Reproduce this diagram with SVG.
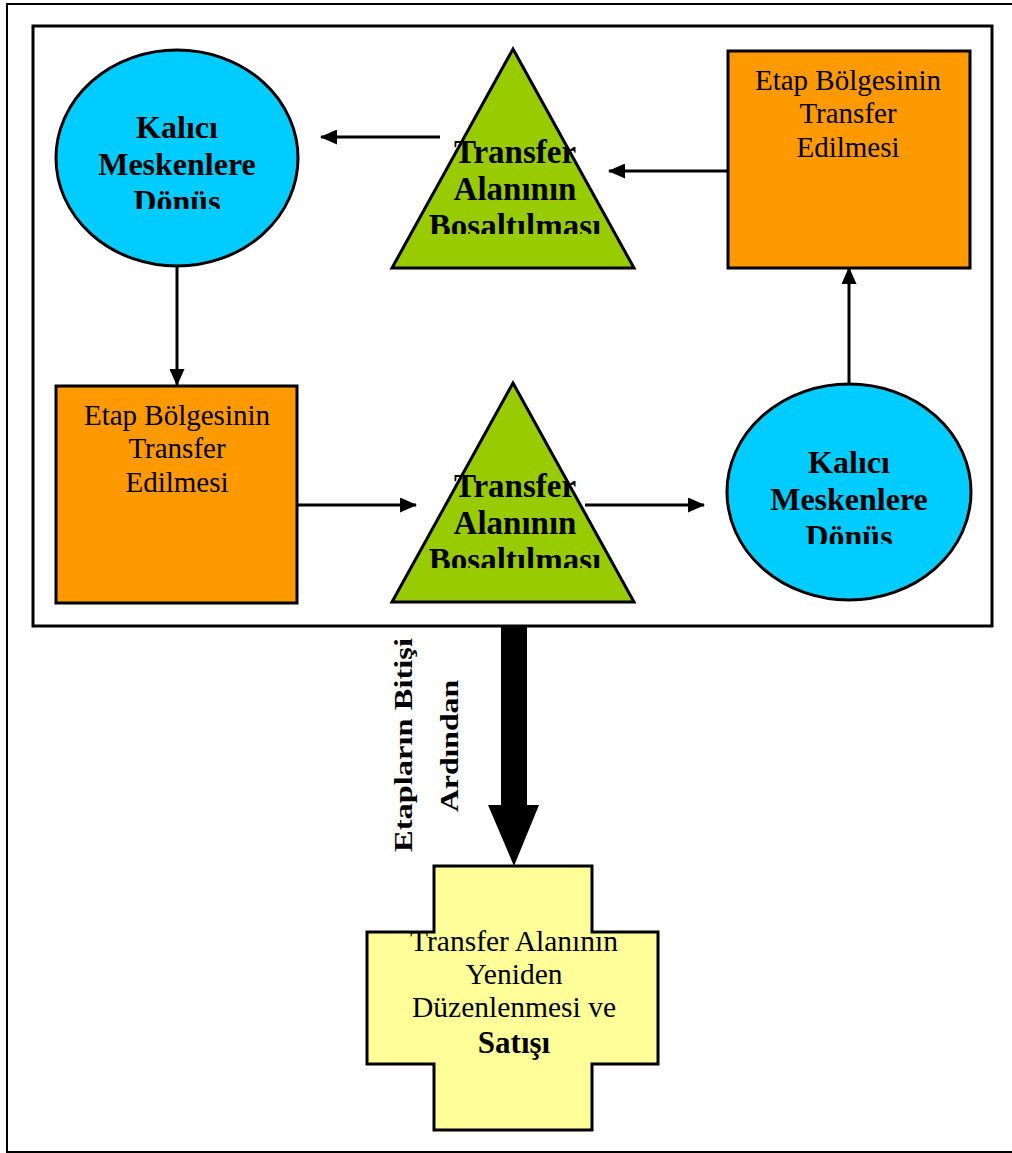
<svg xmlns="http://www.w3.org/2000/svg" width="1012" height="1153" viewBox="0 0 1012 1153">
<style>
.b{font-family:"Liberation Serif","Times New Roman",serif;font-weight:bold;fill:#000;text-anchor:middle}
.r{font-family:"Liberation Serif","Times New Roman",serif;fill:#000;text-anchor:middle}
.shape{stroke:#000;stroke-width:3}
.conn{stroke:#000;stroke-width:3;fill:none;marker-end:url(#ah)}
</style>
<defs>
<marker id="ah" markerUnits="userSpaceOnUse" markerWidth="17" markerHeight="15" refX="16" refY="7.5" orient="auto">
<path d="M0,0 L17,7.5 L0,15 z" fill="#000"/>
</marker>
<clipPath id="c1"><rect x="0" y="0" width="1012" height="209"/></clipPath>
<clipPath id="c2"><rect x="0" y="0" width="1012" height="234"/></clipPath>
<clipPath id="c3"><rect x="0" y="0" width="1012" height="568"/></clipPath>
<clipPath id="c4"><rect x="0" y="0" width="1012" height="544"/></clipPath>
</defs>
<rect x="0" y="0" width="1012" height="1153" fill="#fff"/>
<rect x="7" y="4" width="1030" height="1148" fill="none" stroke="#000" stroke-width="2"/>
<rect x="33" y="26" width="959" height="600" fill="#fff" stroke="#000" stroke-width="3"/>

<g id="connectors">
<line class="conn" x1="728" y1="171" x2="609" y2="171"/>
<line class="conn" x1="440" y1="137" x2="321" y2="137"/>
<line class="conn" x1="177" y1="266" x2="177" y2="385"/>
<line class="conn" x1="297" y1="505" x2="416" y2="505"/>
<line class="conn" x1="585" y1="505" x2="704" y2="505"/>
<line class="conn" x1="849" y1="384" x2="849" y2="268"/>
<path d="M501,626 L527,626 L527,805 L539,805 L514,866 L488,805 L501,805 z" fill="#000"/>
<g class="b" font-size="26">
<text transform="translate(412,745) rotate(-90) scale(1.25,1)">Etapların Bitişi</text>
<text transform="translate(458,746) rotate(-90) scale(1.22,1)">Ardından</text>
</g>
</g>

<g id="n-tl-circle">
<ellipse class="shape" cx="177" cy="158" rx="121" ry="108" fill="#00CCFF"/>
<g class="b" font-size="32">
<text x="177" y="138">Kalıcı</text>
<text x="177" y="175">Meskenlere</text>
<text x="177" y="212" clip-path="url(#c1)">Dönüş</text>
</g>
</g>

<g id="n-top-triangle">
<polygon class="shape" points="513,49 634,268 392,268" fill="#99CC00"/>
<g class="b" font-size="33">
<text x="515" y="163">Transfer</text>
<text x="515" y="200">Alanının</text>
<text x="515" y="237" clip-path="url(#c2)">Bosaltılması</text>
</g>
</g>

<g id="n-tr-rect">
<rect class="shape" x="728" y="51" width="242" height="217" fill="#FF9900"/>
<g class="r" font-size="29">
<text x="848" y="90">Etap Bölgesinin</text>
<text x="848" y="123">Transfer</text>
<text x="848" y="157">Edilmesi</text>
</g>
</g>

<g id="n-bl-rect">
<rect class="shape" x="56" y="386" width="241" height="217" fill="#FF9900"/>
<g class="r" font-size="29">
<text x="177" y="425">Etap Bölgesinin</text>
<text x="177" y="458">Transfer</text>
<text x="177" y="492">Edilmesi</text>
</g>
</g>

<g id="n-bottom-triangle">
<polygon class="shape" points="513,383 634,602 392,602" fill="#99CC00"/>
<g class="b" font-size="33">
<text x="515" y="497">Transfer</text>
<text x="515" y="534">Alanının</text>
<text x="515" y="571" clip-path="url(#c3)">Bosaltılması</text>
</g>
</g>

<g id="n-br-circle">
<ellipse class="shape" cx="849" cy="492" rx="122" ry="108" fill="#00CCFF"/>
<g class="b" font-size="32">
<text x="849" y="473">Kalıcı</text>
<text x="849" y="510">Meskenlere</text>
<text x="849" y="547" clip-path="url(#c4)">Dönüş</text>
</g>
</g>

<g id="n-cross">
<polygon class="shape" points="434,866 592,866 592,932 658,932 658,1064 592,1064 592,1130 434,1130 434,1064 367,1064 367,932 434,932" fill="#FFFF99"/>
<g class="r" font-size="29.5">
<text x="514" y="951">Transfer Alanının</text>
<text x="514" y="984">Yeniden</text>
<text x="514" y="1017">Düzenlenmesi ve</text>
</g>
<text class="b" x="514" y="1053" font-size="31">Satışı</text>
</g>
</svg>
